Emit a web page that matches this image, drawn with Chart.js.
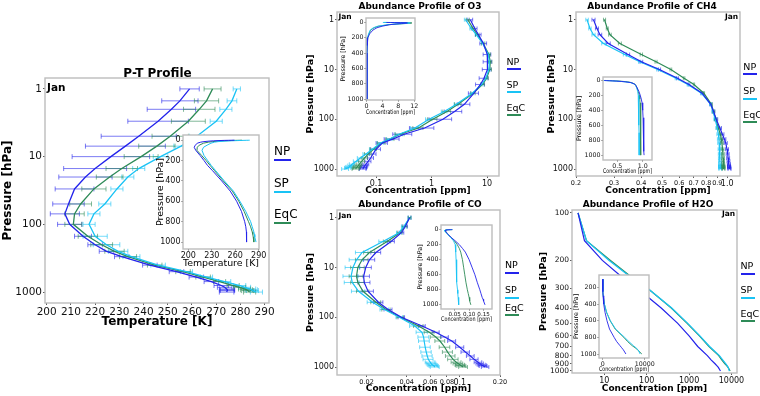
<!DOCTYPE html>
<html>
<head>
<meta charset="utf-8">
<script src="https://cdn.jsdelivr.net/npm/chart.js@4.4.0/dist/chart.umd.min.js"></script>
<style>
  body { margin: 0; width: 760px; height: 396px; overflow: hidden; position: relative; background: #fff; font-family: 'DejaVu Sans', sans-serif; }
  canvas { position: absolute; left: 0; top: 0; }
  .t { position: absolute; white-space: nowrap; line-height: 1; color: #000; }
  .u { position: absolute; height: 2px; }
</style>
</head>
<body>
<script>
"use strict";
// pressure levels [hPa]
const LEV = [1, 1.5, 2, 3, 5, 7, 10, 15, 20, 30, 50, 70, 100, 150, 200, 250, 300, 400, 500, 600, 700, 800, 850, 900, 925, 950, 1000];
const LEV_H2O = [100, 150, 200, 250, 300, 400, 500, 600, 700, 800, 850, 900, 925, 950, 1000];

// temperature [K]
const T_NP = [259, 255, 251.5, 246, 238, 232.5, 226.5, 220, 216, 211.5, 209, 207.5, 209.5, 215, 220, 224.7, 231, 242.6, 253.6, 261.8, 268, 272.1, 273.5, 274.3, 274.6, 274.6, 274.3];
const T_SP = [278.5, 276.5, 274, 270, 262, 255.5, 247, 238, 233.5, 229, 224, 219.5, 217.5, 220, 224.7, 229.5, 235, 246, 257.7, 266, 273.5, 279.7, 281.7, 283.8, 284.5, 285, 286.6];
const T_EQ = [268.5, 266, 263, 258.5, 251, 245.5, 239, 231, 226, 219.5, 214, 211.5, 211, 217, 222.7, 228, 233.6, 244.6, 256.3, 264.6, 271.4, 277, 279.7, 281.7, 282.5, 283, 283.8];
const T_NP_ERR = [4, 7.5, 10, 12.5, 15.5, 16.5, 16, 13, 11, 8, 6.5, 6, 5, 3.5, 3, 3, 3, 3, 3, 3, 3, 3, 3, 3, 3, 3, 3];
const T_SP_ERR = [1.5, 2, 2.5, 2.5, 3, 3, 3, 2.5, 2.5, 2.5, 2.5, 2.5, 2.5, 5, 5.5, 4, 3.5, 3, 2.5, 2.5, 2.5, 2.5, 2.5, 2.5, 2.5, 2.5, 2.5];
const T_EQ_ERR = [3.5, 5, 6.5, 7, 7.5, 7.5, 7, 6.5, 5.5, 5, 4.5, 4, 3.5, 4, 4.5, 4, 3.5, 3, 3, 3, 2.5, 2.5, 2.5, 2.5, 2.5, 2.5, 2.5];

// O3 [ppm]
const O3_NP = [5.0, 6.0, 7.0, 8.6, 10.1, 10.3, 10.0, 8.8, 7.6, 5.8, 3.9, 2.6, 1.6, 0.75, 0.32, 0.2, 0.13, 0.1, 0.088, 0.08, 0.072, 0.066, 0.063, 0.061, 0.06, 0.059, 0.058];
const O3_SP = [4.1, 5.2, 6.4, 8.3, 10.5, 11.0, 10.8, 9.5, 8.0, 5.4, 2.8, 1.7, 0.9, 0.5, 0.26, 0.175, 0.12, 0.086, 0.066, 0.052, 0.044, 0.037, 0.035, 0.033, 0.032, 0.031, 0.028];
const O3_EQ = [4.5, 5.6, 6.7, 8.5, 10.8, 11.4, 11.2, 9.8, 8.3, 5.6, 3.0, 1.9, 1.05, 0.58, 0.27, 0.18, 0.125, 0.09, 0.072, 0.062, 0.055, 0.05, 0.048, 0.046, 0.045, 0.044, 0.043];
const O3_NP_ERR = [0.5, 0.6, 0.8, 1.2, 1.6, 1.8, 1.8, 1.6, 1.4, 1.2, 1.0, 0.9, 0.7, 0.35, 0.12, 0.06, 0.03, 0.02, 0.012, 0.01, 0.009, 0.008, 0.008, 0.008, 0.008, 0.008, 0.008];
const O3_SP_ERR = [0.2, 0.3, 0.3, 0.4, 0.5, 0.5, 0.5, 0.5, 0.4, 0.35, 0.25, 0.2, 0.12, 0.08, 0.04, 0.02, 0.015, 0.01, 0.008, 0.006, 0.005, 0.004, 0.004, 0.004, 0.004, 0.004, 0.004];
const O3_EQ_ERR = [0.3, 0.4, 0.5, 0.6, 0.7, 0.8, 0.8, 0.7, 0.6, 0.5, 0.4, 0.3, 0.2, 0.12, 0.05, 0.03, 0.02, 0.012, 0.01, 0.008, 0.007, 0.006, 0.006, 0.006, 0.006, 0.006, 0.006];

// CO [ppm]
const CO_NP = [0.042, 0.039, 0.0365, 0.0305, 0.0235, 0.021, 0.0197, 0.019, 0.0192, 0.0205, 0.0245, 0.029, 0.0365, 0.052, 0.066, 0.077, 0.087, 0.1, 0.11, 0.12, 0.128, 0.137, 0.141, 0.145, 0.148, 0.15, 0.155];
const CO_SP = [0.042, 0.038, 0.035, 0.0265, 0.0185, 0.0168, 0.0158, 0.0153, 0.0156, 0.0174, 0.0222, 0.0272, 0.0352, 0.046, 0.052, 0.0535, 0.054, 0.055, 0.056, 0.057, 0.058, 0.06, 0.061, 0.062, 0.063, 0.064, 0.065];
const CO_EQ = [0.042, 0.0385, 0.0355, 0.0285, 0.021, 0.0185, 0.0172, 0.0168, 0.0172, 0.0188, 0.0235, 0.028, 0.0358, 0.049, 0.059, 0.066, 0.071, 0.077, 0.081, 0.085, 0.089, 0.094, 0.097, 0.1, 0.101, 0.103, 0.106];
const CO_NP_ERR = [0.001, 0.0015, 0.0015, 0.0018, 0.002, 0.002, 0.002, 0.002, 0.002, 0.002, 0.002, 0.002, 0.002, 0.003, 0.004, 0.005, 0.006, 0.007, 0.008, 0.008, 0.009, 0.009, 0.009, 0.01, 0.01, 0.01, 0.01];
const CO_SP_ERR = [0.001, 0.0015, 0.0015, 0.0018, 0.002, 0.002, 0.002, 0.002, 0.002, 0.002, 0.002, 0.002, 0.002, 0.004, 0.005, 0.005, 0.005, 0.005, 0.005, 0.005, 0.005, 0.005, 0.005, 0.005, 0.005, 0.005, 0.005];
const CO_EQ_ERR = [0.001, 0.0015, 0.0015, 0.0018, 0.002, 0.002, 0.002, 0.002, 0.002, 0.002, 0.002, 0.002, 0.002, 0.004, 0.005, 0.006, 0.006, 0.007, 0.007, 0.007, 0.008, 0.008, 0.008, 0.008, 0.008, 0.008, 0.008];

// CH4 [ppm]
const CH4_NP = [0.241, 0.25, 0.258, 0.282, 0.348, 0.401, 0.486, 0.589, 0.666, 0.766, 0.84, 0.865, 0.89, 0.925, 0.95, 0.97, 0.985, 0.998, 1.005, 1.01, 1.014, 1.018, 1.02, 1.021, 1.022, 1.023, 1.025];
const CH4_SP = [0.225, 0.232, 0.241, 0.268, 0.336, 0.394, 0.477, 0.58, 0.658, 0.76, 0.838, 0.86, 0.88, 0.9, 0.91, 0.915, 0.918, 0.922, 0.924, 0.925, 0.926, 0.927, 0.928, 0.928, 0.929, 0.929, 0.93];
const CH4_EQ = [0.271, 0.279, 0.287, 0.319, 0.401, 0.469, 0.549, 0.632, 0.702, 0.78, 0.845, 0.865, 0.885, 0.91, 0.93, 0.94, 0.945, 0.952, 0.955, 0.957, 0.958, 0.959, 0.96, 0.961, 0.961, 0.962, 0.962];
const CH4_NP_ERR = [0.004, 0.004, 0.005, 0.006, 0.006, 0.006, 0.006, 0.006, 0.006, 0.008, 0.01, 0.012, 0.014, 0.016, 0.016, 0.016, 0.016, 0.016, 0.016, 0.016, 0.016, 0.016, 0.016, 0.016, 0.016, 0.016, 0.016];
const CH4_SP_ERR = [0.003, 0.003, 0.004, 0.005, 0.005, 0.005, 0.005, 0.005, 0.005, 0.006, 0.008, 0.01, 0.012, 0.014, 0.014, 0.014, 0.014, 0.014, 0.014, 0.014, 0.014, 0.014, 0.014, 0.014, 0.014, 0.014, 0.014];
const CH4_EQ_ERR = [0.003, 0.003, 0.004, 0.005, 0.005, 0.005, 0.005, 0.005, 0.005, 0.006, 0.008, 0.01, 0.012, 0.014, 0.014, 0.014, 0.014, 0.014, 0.014, 0.014, 0.014, 0.014, 0.014, 0.014, 0.014, 0.014, 0.014];

// H2O [ppm]
const H2O_NP = [2.4, 3.4, 9, 24, 60, 220, 540, 1000, 1600, 2700, 3300, 4100, 4500, 4900, 5500];
const H2O_SP = [2.4, 3.8, 13, 38, 105, 390, 930, 1800, 3050, 5200, 6200, 7300, 7900, 8400, 8900];
const H2O_EQ = [2.4, 3.8, 14, 40, 105, 380, 900, 1750, 2950, 5000, 5900, 7000, 7700, 8300, 9300];

// tick values and labels
const P_TICKS = [1, 10, 100, 1000];
const PIN_TICKS = [0, 200, 400, 600, 800, 1000];
const T_TICKS = [200, 210, 220, 230, 240, 250, 260, 270, 280, 290];
const TIN_TICKS = [200, 230, 260, 290];
const O3_TICKS = [0.1, 1, 10];
const O3_LABELS = ["0.1", "1", "10"];
const O3IN_TICKS = [0, 4, 8, 12];
const CO_TICKS = [0.02, 0.04, 0.06, 0.08, 0.1, 0.2];
const CO_LABELS = ["0.02", "0.04", "0.06", "0.08", "0.1", "0.20"];
const COIN_TICKS = [0.05, 0.1, 0.15];
const COIN_LABELS = ["0.05", "0.10", "0.15"];
const CH4_TICKS = [0.2, 0.3, 0.4, 0.5, 0.6, 0.7, 0.8, 0.9, 1.0];
const CH4_LABELS = ["0.2", "0.3", "0.4", "0.5", "0.6", "0.7", "0.8", "0.9", "1.0"];
const CH4IN_TICKS = [0.5, 1.0];
const CH4IN_LABELS = ["0.5", "1.0"];
const H2O_TICKS = [10, 100, 1000, 10000];
const H2O_PTICKS = [100, 200, 300, 400, 500, 600, 700, 800, 900, 1000];
const H2OIN_TICKS = [0, 10000];
const H2OIN_PTICKS = [200, 400, 600, 800, 1000];

const NAMES = ["NP", "SP", "EqC"];
const NP_C = "rgb(35,35,235)";
const SP_C = "rgb(25,195,245)";
const EQ_C = "rgb(46,139,87)";
const COLORS = [NP_C, SP_C, EQ_C];

function rgba(c, a) {
    return c.replace("rgb(", "rgba(").replace(")", "," + a + ")");
}

// horizontal error bars with caps, drawn under the lines
const errorBars = {
    id: "errorBars",
    beforeDatasetsDraw(chart) {
        const { ctx, chartArea: a, scales: { x, y } } = chart;
        ctx.save();
        ctx.beginPath();
        ctx.rect(a.left, a.top, a.right - a.left, a.bottom - a.top);
        ctx.clip();
        chart.data.datasets.forEach((ds) => {
            if (!ds.errs) return;
            const cap = ds.cap || 2;
            ctx.strokeStyle = rgba(ds.borderColor, 0.6);
            ctx.lineWidth = 1;
            ds.data.forEach((pt, i) => {
                const e = ds.errs[i];
                const lo = Math.max(pt.x - e, pt.x * 0.05);
                const x0 = x.getPixelForValue(lo);
                const x1 = x.getPixelForValue(pt.x + e);
                const yy = y.getPixelForValue(pt.y);
                ctx.beginPath();
                ctx.moveTo(x0, yy); ctx.lineTo(x1, yy);
                ctx.moveTo(x0, yy - cap); ctx.lineTo(x0, yy + cap);
                ctx.moveTo(x1, yy - cap); ctx.lineTo(x1, yy + cap);
                ctx.stroke();
            });
        });
        ctx.restore();
    },
};

// grey axes frame, white background for the insets
const frame = {
    id: "frame",
    beforeDraw(chart, args, opts) {
        if (!opts.fill) return;
        const { ctx, chartArea: a } = chart;
        ctx.save();
        ctx.fillStyle = "#fff";
        ctx.fillRect(a.left, a.top, a.right - a.left, a.bottom - a.top);
        ctx.restore();
    },
    afterDatasetsDraw(chart) {
        const { ctx, chartArea: a } = chart;
        ctx.save();
        ctx.strokeStyle = "#bdbdbd";
        ctx.lineWidth = 1.4;
        ctx.strokeRect(a.left, a.top, a.right - a.left, a.bottom - a.top);
        ctx.restore();
    },
};

Chart.register(errorBars, frame);
Chart.defaults.font.family = "'DejaVu Sans', sans-serif";
Chart.defaults.color = "#000";

function scaleOpts(a, pos, fit) {
    return {
        type: a.type,
        position: pos,
        min: a.min,
        max: a.max,
        reverse: !!a.reverse,
        afterBuildTicks: (s) => { s.ticks = a.ticks.map((v) => ({ value: v })); },
        afterFit: (s) => {
            if (pos === "left") s.width = fit; else s.height = fit;
            s.paddingLeft = s.paddingRight = s.paddingTop = s.paddingBottom = 0;
        },
        ticks: {
            autoSkip: false, maxRotation: 0, minRotation: 0,
            padding: a.pad, font: a.font, color: "#111",
            callback: (v, i) => (a.labels ? a.labels[i] : String(a.ticks[i])),
        },
        grid: { drawOnChartArea: false, tickLength: a.tl, color: "#333", lineWidth: 0.8 },
        border: { display: false },
        title: { display: true, text: a.title, font: a.titleFont, padding: a.titlePad || 0 },
    };
}

function series(vals, levs, errs, color, bw, cap) {
    return vals.map((v, k) => ({
        data: v.map((x, i) => ({ x: x, y: levs[i] })),
        errs: errs ? errs[k] : null,
        cap: cap,
        borderColor: color[k],
        borderWidth: bw,
        pointRadius: 0,
        fill: false,
        tension: 0,
    }));
}

function panel(p) {
    const c = document.createElement("canvas");
    c.width = 760;
    c.height = 396;
    document.body.appendChild(c);
    new Chart(c, {
        type: "line",
        data: { datasets: p.sets },
        options: {
            responsive: false,
            animation: false,
            devicePixelRatio: 1,
            events: [],
            layout: {
                autoPadding: false,
                padding: { left: p.box[0] - p.wy, top: p.box[1], right: 760 - p.box[2], bottom: 396 - p.box[3] - p.hx },
            },
            plugins: { legend: { display: false }, tooltip: { enabled: false }, frame: { fill: !!p.inset } },
            scales: { x: scaleOpts(p.x, "bottom", p.hx), y: scaleOpts(p.y, "left", p.wy) },
        },
    });
}

function txt(s, x, y, size, bold, anchor) {
    const d = document.createElement("div");
    d.className = "t";
    d.textContent = s;
    d.style.left = x + "px";
    d.style.top = y + "px";
    d.style.fontSize = size + "px";
    if (bold) d.style.fontWeight = "bold";
    d.style.transform = anchor === "c" ? "translate(-50%,-50%)" : "translateY(-50%)";
    document.body.appendChild(d);
}

function legend(x, ys, size, w) {
    NAMES.forEach((n, k) => {
        txt(n, x, ys[k], size, false, "l");
        const u = document.createElement("div");
        u.className = "u";
        u.style.left = x + "px";
        u.style.top = (ys[k] + size * 0.68) + "px";
        u.style.width = w + "px";
        u.style.background = COLORS[k];
        document.body.appendChild(u);
    });
}

const mainP = (min, max, title, size, tsize) => ({
    type: "logarithmic", min: min, max: max, reverse: true, ticks: P_TICKS,
    font: { size: size }, tl: 2, pad: 1, title: title, titleFont: { size: tsize, weight: "bold" },
});
const inP = (min, max, size, tsize) => ({
    type: "linear", min: min, max: max, reverse: true, ticks: PIN_TICKS,
    font: { size: size }, tl: 1.5, pad: 1, title: "Pressure [hPa]", titleFont: { size: tsize },
});
const conc = "Concentration [ppm]";
const minor = (big) => (ctx) => ({ size: ctx.tick && big.includes(ctx.tick.value) ? 8 : 6.5 });

// ---- P-T profile
panel({
    box: [45, 78, 269, 303], wy: 45, hx: 26,
    sets: series([T_NP, T_SP, T_EQ], LEV, [T_NP_ERR, T_SP_ERR, T_EQ_ERR], COLORS, 1.3, 2.5),
    x: { type: "linear", min: 199.3, max: 291.8, ticks: T_TICKS, font: { size: 10.5 }, tl: 2, pad: 1,
        title: "Temperature [K]", titleFont: { size: 12, weight: "bold" } },
    y: Object.assign(mainP(0.69, 1450, "Pressure [hPa]", 10.5, 12), { titlePad: { top: 1, bottom: 0 } }),
});
panel({
    inset: true, box: [183, 135, 259, 249], wy: 28, hx: 20,
    sets: series([T_NP, T_SP, T_EQ], LEV, null, COLORS, 1),
    x: { type: "linear", min: 193.2, max: 290.4, ticks: TIN_TICKS, font: { size: 8 }, tl: 1.5, pad: 1,
        title: "Temperature [K]", titleFont: { size: 9.5 } },
    y: inP(-50, 1068, 8, 9.5),
});

// ---- O3
panel({
    box: [337, 12, 499, 176], wy: 32, hx: 20,
    sets: series([O3_NP, O3_SP, O3_EQ], LEV, [O3_NP_ERR, O3_SP_ERR, O3_EQ_ERR], COLORS, 1.2, 2),
    x: { type: "logarithmic", min: 0.0198, max: 16.4, ticks: O3_TICKS, labels: O3_LABELS, font: { size: 8 }, tl: 2, pad: 1,
        title: conc, titleFont: { size: 9, weight: "bold" } },
    y: mainP(0.724, 1380, "Pressure [hPa]", 8, 9.5),
});
panel({
    inset: true, box: [366, 18, 415, 100], wy: 26, hx: 16,
    sets: series([O3_NP, O3_SP, O3_EQ], LEV, null, COLORS, 0.9),
    x: { type: "linear", min: -0.15, max: 12.2, ticks: O3IN_TICKS, font: { size: 6.3 }, tl: 1.5, pad: 1,
        title: conc, titleFont: { size: 6.3 } },
    y: inP(-57, 1010, 6.3, 6.3),
});

// ---- CO
panel({
    box: [337, 210, 500, 375], wy: 32, hx: 19,
    sets: series([CO_NP, CO_SP, CO_EQ], LEV, [CO_NP_ERR, CO_SP_ERR, CO_EQ_ERR], COLORS, 1.2, 2),
    x: { type: "logarithmic", min: 0.012, max: 0.2, ticks: CO_TICKS, labels: CO_LABELS, font: minor([0.1]), tl: 2, pad: 1,
        title: conc, titleFont: { size: 9, weight: "bold" } },
    y: mainP(0.724, 1445, "Pressure [hPa]", 8, 9.5),
});
panel({
    inset: true, box: [441, 225, 492, 309], wy: 24, hx: 14,
    sets: series([CO_NP, CO_SP, CO_EQ], LEV, null, COLORS, 0.9),
    x: { type: "linear", min: 0.003, max: 0.179, ticks: COIN_TICKS, labels: COIN_LABELS, font: { size: 5.6 }, tl: 1.5, pad: 1,
        title: conc, titleFont: { size: 6.3 } },
    y: inP(-60, 1055, 6.3, 6.3),
});

// ---- CH4
panel({
    box: [576, 12, 740, 176], wy: 30, hx: 20,
    sets: series([CH4_NP, CH4_SP, CH4_EQ], LEV, [CH4_NP_ERR, CH4_SP_ERR, CH4_EQ_ERR], COLORS, 1.2, 2),
    x: { type: "logarithmic", min: 0.2, max: 1.146, ticks: CH4_TICKS, labels: CH4_LABELS, font: minor([1.0]), tl: 2, pad: 1,
        title: conc, titleFont: { size: 9, weight: "bold" } },
    y: mainP(0.724, 1380, "Pressure [hPa]", 8, 9.5),
});
panel({
    inset: true, box: [603, 77, 652, 160], wy: 27, hx: 15,
    sets: series([CH4_NP, CH4_SP, CH4_EQ], LEV, null, COLORS, 0.9),
    x: { type: "linear", min: 0.22, max: 1.18, ticks: CH4IN_TICKS, labels: CH4IN_LABELS, font: { size: 6.3 }, tl: 1.5, pad: 1,
        title: conc, titleFont: { size: 6.3 } },
    y: inP(-45, 1065, 6.3, 6.3),
});

// ---- H2O
panel({
    box: [572, 210, 737, 373], wy: 34, hx: 21,
    sets: series([H2O_NP, H2O_SP, H2O_EQ], LEV_H2O, null, COLORS, 1.2),
    x: { type: "logarithmic", min: 1.73, max: 13500, ticks: H2O_TICKS, font: { size: 8 }, tl: 2, pad: 1,
        title: conc, titleFont: { size: 9, weight: "bold" } },
    y: { type: "logarithmic", min: 96, max: 1030, reverse: true, ticks: H2O_PTICKS, font: { size: 7.5 }, tl: 2, pad: 1,
        title: "Pressure [hPa]", titleFont: { size: 9.5, weight: "bold" } },
});
panel({
    inset: true, box: [599, 275, 649, 358], wy: 26, hx: 15,
    sets: series([H2O_NP, H2O_SP, H2O_EQ], LEV_H2O, null, COLORS, 0.9),
    x: { type: "linear", min: -900, max: 11000, ticks: H2OIN_TICKS, font: { size: 6.3 }, tl: 1.5, pad: 1,
        title: conc, titleFont: { size: 6.3 } },
    y: { type: "linear", min: 50, max: 1048, reverse: true, ticks: H2OIN_PTICKS, font: { size: 6.3 }, tl: 1.5, pad: 1,
        title: "Pressure [hPa]", titleFont: { size: 6.3 } },
});

// titles, month tags, legends
txt("P-T Profile", 157.5, 72.5, 12, true, "c");
txt("Abundance Profile of O3", 420, 5.5, 9, true, "c");
txt("Abundance Profile of CO", 420, 204, 9, true, "c");
txt("Abundance Profile of CH4", 652, 6.3, 9, true, "c");
txt("Abundance Profile of H2O", 648, 204, 9, true, "c");

txt("Jan", 47, 87, 10.5, true, "l");
txt("Jan", 338.5, 16.7, 7.5, true, "l");
txt("Jan", 338.5, 216, 7.5, true, "l");
txt("Jan", 725, 16.7, 7.5, true, "l");
txt("Jan", 722, 214, 7.5, true, "l");

legend(274, [150.7, 182.7, 214.3], 12, 17);
legend(506.5, [61.7, 85, 107.5], 9.5, 14);
legend(505, [265.3, 290.3, 307.5], 9.5, 14);
legend(743.3, [67, 91.3, 114.8], 9.5, 14);
legend(740.5, [266.3, 290.3, 314], 9.5, 14);
</script>
</body>
</html>
